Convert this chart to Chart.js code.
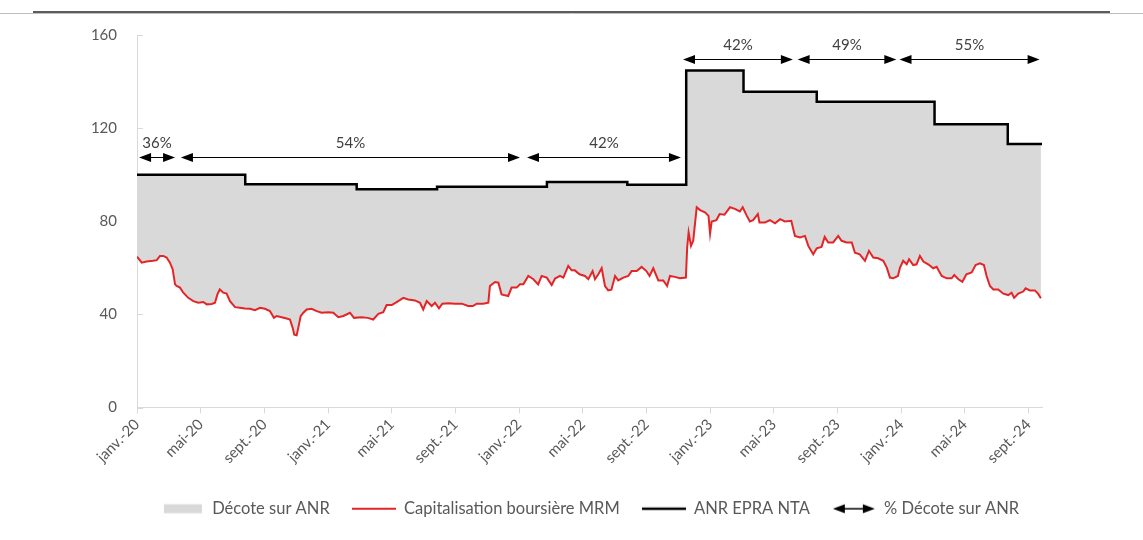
<!DOCTYPE html>
<html lang="fr">
<head>
<meta charset="utf-8">
<title>Décote sur ANR</title>
<script src="https://cdn.jsdelivr.net/npm/chart.js@4.4.1/dist/chart.umd.min.js"></script>
<style>
  html, body { margin: 0; padding: 0; background: #fff; }
  canvas { display: block; }
</style>
</head>
<body>
<canvas id="graphique" width="1143" height="540"></canvas>
<script>
// axe des x : mois depuis janvier 2020
const xTickLabels = ["janv.-20", "mai-20", "sept.-20", "janv.-21", "mai-21", "sept.-21", "janv.-22", "mai-22",
  "sept.-22", "janv.-23", "mai-23", "sept.-23", "janv.-24", "mai-24", "sept.-24"];

// Capitalisation boursière MRM (M€)
const capMonth = [0.00, 0.30, 0.60, 1.00, 1.24, 1.44, 1.65, 1.86, 2.07, 2.24, 2.39, 2.49, 2.70, 2.91, 3.22, 3.54,
  3.85, 4.17, 4.38, 4.69, 4.90, 5.05, 5.20, 5.42, 5.63, 5.84, 6.16, 6.47, 6.78, 7.10, 7.41, 7.73, 8.04, 8.35,
  8.60, 8.77, 9.09, 9.40, 9.61, 9.78, 9.88, 10.03, 10.13, 10.28, 10.45, 10.66, 10.97, 11.29, 11.60, 12.02,
  12.33, 12.65, 12.96, 13.38, 13.63, 14.10, 14.50, 14.84, 15.16, 15.47, 15.68, 16.00, 16.31, 16.73, 17.04,
  17.46, 17.78, 17.98, 18.20, 18.51, 18.72, 18.97, 19.18, 19.56, 19.97, 20.40, 20.80, 21.10, 21.34, 21.75,
  22.07, 22.17, 22.49, 22.70, 22.90, 23.32, 23.53, 23.85, 24.06, 24.27, 24.58, 24.90, 25.20, 25.42, 25.74,
  26.05, 26.26, 26.57, 26.78, 27.09, 27.30, 27.50, 27.80, 28.14, 28.35, 28.62, 28.77, 28.98, 29.19, 29.40,
  29.60, 29.80, 30.03, 30.23, 30.55, 30.86, 31.07, 31.39, 31.70, 32.00, 32.20, 32.43, 32.75, 33.06, 33.30,
  33.48, 33.79, 34.10, 34.48, 34.56, 34.65, 34.80, 34.94, 35.16, 35.37, 35.68, 35.90, 36.00, 36.10, 36.40,
  36.60, 36.90, 37.25, 37.56, 37.87, 38.05, 38.30, 38.50, 38.70, 39.00, 39.10, 39.45, 39.76, 40.08, 40.40,
  40.70, 41.10, 41.33, 41.65, 41.96, 42.17, 42.48, 42.70, 43.00, 43.20, 43.42, 43.73, 44.05, 44.26, 44.58,
  44.90, 45.10, 45.40, 45.73, 45.98, 46.25, 46.56, 46.88, 47.10, 47.30, 47.50, 47.80, 47.93, 48.13, 48.35,
  48.50, 48.76, 48.97, 49.18, 49.40, 49.70, 50.02, 50.23, 50.55, 50.86, 51.17, 51.34, 51.60, 51.85, 52.10,
  52.43, 52.68, 52.95, 53.20, 53.37, 53.58, 53.79, 54.10, 54.42, 54.73, 54.94, 55.10, 55.36, 55.67, 55.82,
  56.09, 56.40, 56.60, 56.78];
const capValue = [64.8, 62.2, 62.7, 63.0, 63.3, 65.1, 65.1, 64.4, 62.2, 59.4, 52.9, 52.2, 51.5, 49.3, 47.1, 45.7,
  45.0, 45.3, 44.3, 44.5, 45.0, 48.6, 50.7, 49.3, 48.9, 45.7, 43.1, 42.8, 42.5, 42.4, 41.8, 42.8, 42.4, 41.4,
  38.5, 39.3, 38.8, 38.2, 37.8, 34.2, 31.3, 31.0, 34.2, 39.2, 40.7, 42.1, 42.4, 41.4, 40.7, 40.9,
  40.7, 38.8, 39.3, 40.7, 38.5, 38.8, 38.5, 37.8, 40.2, 40.9, 44.0, 44.0, 45.3, 47.1, 46.4,
  46.0, 45.0, 42.1, 45.7, 43.6, 45.0, 42.6, 44.6, 44.8, 44.6, 44.6, 43.6, 43.6, 44.6, 44.6,
  45.0, 52.2, 53.9, 53.6, 48.6, 47.9, 51.5, 51.5, 52.9, 52.9, 56.5, 55.1, 52.9, 56.5, 55.8,
  52.6, 55.4, 56.5, 55.8, 60.8, 58.9, 58.9, 57.2, 56.5, 55.1, 58.6, 55.1, 57.2, 59.8, 52.2,
  50.3, 50.6, 56.5, 54.6, 55.8, 56.5, 58.6, 58.6, 60.4, 58.6, 56.5, 59.8, 54.6, 54.6, 52.2,
  56.5, 56.1, 55.5, 55.8, 68.7, 75.2, 69.4, 71.6, 86.0, 84.8, 83.8, 82.3, 74.7, 79.9, 80.5,
  83.1, 82.8, 86.0, 85.3, 84.2, 86.0, 82.4, 79.9, 80.5, 83.1, 79.5, 79.5, 80.5, 79.1, 80.9,
  79.9, 80.2, 73.7, 73.0, 73.7, 69.4, 65.8, 68.4, 69.0, 73.3, 70.9, 70.9, 73.7, 71.6, 70.9,
  70.9, 66.5, 65.8, 63.0, 67.3, 64.4, 64.1, 63.0, 60.1, 55.8, 55.5, 56.5, 60.1, 63.0, 61.5,
  63.7, 61.2, 61.5, 65.1, 62.7, 61.5, 59.8, 60.4, 56.5, 55.5, 55.5, 56.9, 55.1, 54.0, 57.2,
  58.0, 61.2, 61.9, 61.2, 56.5, 52.2, 50.7, 50.7, 48.9, 48.3, 49.3, 47.1, 48.9, 49.8, 51.2,
  50.3, 50.3, 48.9, 46.9];

// ANR EPRA NTA (M€), valeur applicable à partir de chaque date
const anrMonth = [0, 6.8, 13.8, 18.85, 25.75, 30.8, 34.5, 38.1, 42.7, 50.1, 54.7, 56.85];
const anrValue = [100.0, 95.9, 93.7, 94.8, 96.9, 95.7, 144.7, 135.6, 131.3, 121.7, 113.2, 113.2];

// % décote sur ANR : flèches
const arrowFrom = [0.13, 2.76, 24.5, 34.3, 41.5, 47.9];
const arrowTo = [2.39, 24.06, 34.17, 41.2, 47.7, 56.7];
const arrowLevel = [107.4, 107.4, 107.4, 149.5, 149.5, 149.5];
const arrowLabel = ["36%", "54%", "42%", "42%", "49%", "55%"];

const police = "Lato, 'Open Sans', sans-serif";
const gris = "#595959";

function marqueur(dessin) {
  const c = document.createElement("canvas");
  c.width = 44;
  c.height = 14;
  dessin(c.getContext("2d"));
  return c;
}

function pointeFleche(ctx, x, y, sens) {
  ctx.beginPath();
  ctx.moveTo(x, y);
  ctx.lineTo(x - sens * 12, y - 4.5);
  ctx.lineTo(x - sens * 12, y + 4.5);
  ctx.closePath();
  ctx.fill();
}

function fleche(ctx, x1, x2, y) {
  ctx.beginPath();
  ctx.moveTo(x1 + 6, y);
  ctx.lineTo(x2 - 6, y);
  ctx.stroke();
  pointeFleche(ctx, x1, y, -1);
  pointeFleche(ctx, x2, y, 1);
}

const marqueurDecote = marqueur((ctx) => {
  ctx.fillStyle = "#d9d9d9";
  ctx.fillRect(4, 2.5, 38, 9);
});
const marqueurCapi = marqueur((ctx) => {
  ctx.strokeStyle = "#e42527";
  ctx.lineWidth = 2;
  ctx.beginPath();
  ctx.moveTo(0, 7);
  ctx.lineTo(44, 7);
  ctx.stroke();
});
const marqueurAnr = marqueur((ctx) => {
  ctx.strokeStyle = "#000";
  ctx.lineWidth = 2.5;
  ctx.beginPath();
  ctx.moveTo(0, 7);
  ctx.lineTo(44, 7);
  ctx.stroke();
});
const marqueurFleche = marqueur((ctx) => {
  ctx.strokeStyle = "#000";
  ctx.fillStyle = "#000";
  ctx.lineWidth = 1.5;
  fleche(ctx, 1, 43, 7);
});

// filet horizontal en haut de la page
const filetHaut = {
  id: "filetHaut",
  beforeDraw(chart) {
    const ctx = chart.ctx;
    ctx.save();
    ctx.strokeStyle = "#bfbfbf";
    ctx.lineWidth = 1;
    ctx.beginPath();
    ctx.moveTo(0, 13.5);
    ctx.lineTo(chart.width, 13.5);
    ctx.stroke();
    ctx.strokeStyle = "#262626";
    ctx.lineWidth = 1.5;
    ctx.beginPath();
    ctx.moveTo(33, 12);
    ctx.lineTo(1110, 12);
    ctx.stroke();
    ctx.restore();
  },
};

// petites graduations à l'intérieur de l'axe des y
const graduationsY = {
  id: "graduationsY",
  afterDraw(chart) {
    const ctx = chart.ctx;
    const y = chart.scales.y;
    ctx.save();
    ctx.strokeStyle = "#d9d9d9";
    ctx.lineWidth = 1;
    y.ticks.forEach((t) => {
      const py = Math.round(y.getPixelForValue(t.value)) + 0.5;
      ctx.beginPath();
      ctx.moveTo(y.right, py);
      ctx.lineTo(y.right + 6, py);
      ctx.stroke();
    });
    ctx.restore();
  },
};

const flechesDecote = {
  id: "flechesDecote",
  afterDatasetsDraw(chart) {
    const ctx = chart.ctx;
    const x = chart.scales.x;
    const y = chart.scales.y;
    ctx.save();
    ctx.strokeStyle = "#000";
    ctx.lineWidth = 1;
    arrowLabel.forEach((label, i) => {
      const x1 = x.getPixelForValue(arrowFrom[i]);
      const x2 = x.getPixelForValue(arrowTo[i]);
      const py = Math.round(y.getPixelForValue(arrowLevel[i])) + 0.5;
      ctx.fillStyle = "#000";
      fleche(ctx, x1, x2, py);
      ctx.fillStyle = "#404040";
      ctx.font = "15px " + police;
      ctx.textAlign = "center";
      ctx.textBaseline = "alphabetic";
      ctx.fillText(label, (x1 + x2) / 2, py - 10);
    });
    ctx.restore();
  },
};

const config = {
  type: "line",
  data: {
    datasets: [
      {
        label: "Capitalisation boursière MRM",
        data: capMonth.map((m, i) => ({ x: m, y: capValue[i] })),
        borderColor: "#e42527",
        borderWidth: 2,
        pointRadius: 0,
        fill: false,
      },
      {
        label: "ANR EPRA NTA",
        data: anrMonth.map((m, i) => ({ x: m, y: anrValue[i] })),
        borderColor: "#000",
        borderWidth: 2.5,
        stepped: true,
        pointRadius: 0,
        fill: "-1",
        backgroundColor: "#d9d9d9",
      },
    ],
  },
  options: {
    responsive: false,
    animation: false,
    devicePixelRatio: 1,
    layout: {
      padding: { top: 35, left: 60, right: 101, bottom: 13 },
    },
    plugins: {
      tooltip: { enabled: false },
      legend: {
        position: "bottom",
        fullSize: false,
        onClick: null,
        labels: {
          usePointStyle: true,
          pointStyleWidth: 44,
          boxHeight: 14,
          padding: 22,
          color: gris,
          font: { family: police, size: 16.5 },
          generateLabels: () => [
            { text: "Décote sur ANR", pointStyle: marqueurDecote },
            { text: "Capitalisation boursière MRM", pointStyle: marqueurCapi },
            { text: "ANR EPRA NTA", pointStyle: marqueurAnr },
            { text: "% Décote sur ANR", pointStyle: marqueurFleche },
          ].map((item) => ({
            ...item,
            fillStyle: "transparent",
            strokeStyle: "transparent",
            lineWidth: 0,
            hidden: false,
            fontColor: gris,
          })),
        },
      },
    },
    scales: {
      x: {
        type: "linear",
        min: 0,
        max: 56.85,
        afterFit: (scale) => {
          scale.height = 71;
        },
        grid: {
          display: true,
          drawOnChartArea: false,
          drawTicks: true,
          tickLength: 6,
          color: "#d9d9d9",
        },
        border: { color: "#d9d9d9", width: 1 },
        ticks: {
          stepSize: 4,
          autoSkip: false,
          includeBounds: false,
          maxRotation: 45,
          minRotation: 45,
          padding: 2,
          color: gris,
          font: { family: police, size: 15 },
          callback: (v) => xTickLabels[v / 4] ?? "",
        },
      },
      y: {
        min: 0,
        max: 160,
        afterFit: (scale) => {
          scale.width = 77;
        },
        grid: { display: false, drawTicks: false },
        border: { color: "#d9d9d9", width: 1 },
        ticks: {
          stepSize: 40,
          padding: 20,
          color: gris,
          font: { family: police, size: 15 },
        },
      },
    },
  },
  plugins: [filetHaut, graduationsY, flechesDecote],
};

new Chart(document.getElementById("graphique"), config);
</script>
</body>
</html>
